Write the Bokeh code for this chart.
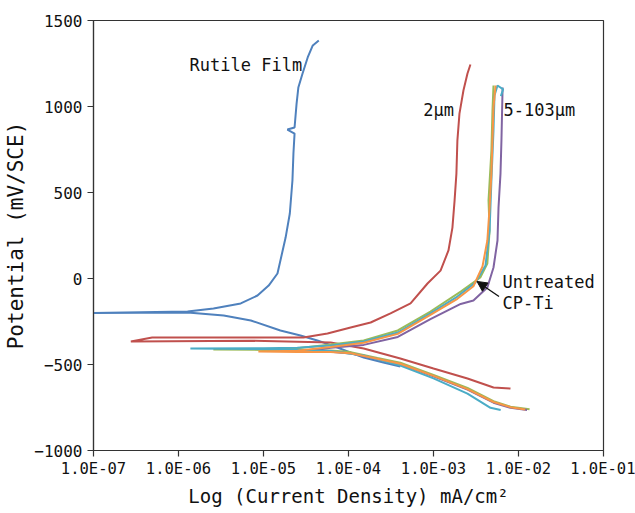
from bokeh.plotting import figure
from bokeh.models import Range1d, FixedTicker, Label, Arrow, NormalHead
from bokeh.embed import file_html
from bokeh.resources import INLINE

# ---------------- data (current density mA/cm^2, potential mV/SCE) ----------------
x_ticks = [1e-7, 1e-6, 1e-5, 1e-4, 1e-3, 1e-2, 1e-1]
x_tick_labels = ["1.0E-07", "1.0E-06", "1.0E-05", "1.0E-04", "1.0E-03", "1.0E-02", "1.0E-01"]
y_ticks = [-1000, -500, 0, 500, 1000, 1500]

# Rutile film (blue)
rutile_i = [4.07e-4, 2.57e-4, 1.51e-4, 1.05e-4, 7.4e-5, 4.3e-5, 2.72e-5, 1.58e-5, 7.1e-6, 3.4e-6, 1.28e-6,
            1.0e-7,
            1.28e-6, 2.58e-6, 5.4e-6, 8.5e-6, 1.15e-5, 1.46e-5, 1.82e-5, 2.04e-5, 2.19e-5, 2.25e-5, 2.32e-5,
            1.91e-5, 2.32e-5, 2.45e-5, 2.57e-5, 2.88e-5, 3.31e-5, 3.8e-5, 4.47e-5]
rutile_e = [-512, -488, -459, -430, -401, -360, -331, -302, -244, -215, -197,
            -200,
            -192, -174, -145, -99, -41, 29, 238, 378, 570, 727, 843,
            866, 878, 1017, 1110, 1192, 1285, 1355, 1384]

# 2 um (red)
um2_i = [8.05e-3, 5.08e-3, 2.51e-3, 1.0e-3, 4.07e-4, 1.51e-4, 6.17e-5, 7.1e-6,
         2.75e-7,
         4.9e-7, 7.1e-6, 2.95e-5, 5.66e-5, 1.06e-4, 1.82e-4, 3.12e-4, 5.37e-4, 8.5e-4, 1.21e-3,
         1.5e-3, 1.67e-3, 1.77e-3, 1.86e-3, 1.91e-3, 2.02e-3, 2.25e-3, 2.51e-3, 2.72e-3]
um2_e = [-640, -634, -581, -523, -465, -407, -372, -362,
         -366,
         -343, -343, -343, -320, -285, -256, -203, -145, -29, 46,
         163, 296, 453, 610, 802, 959, 1093, 1192, 1244]

# 5-103 um / untreated group
green_i = [1.35e-2, 8.05e-3, 5.08e-3, 2.51e-3, 1.0e-3, 4.07e-4, 2.19e-4, 1.06e-4, 6.17e-5, 1.0e-5,
           2.57e-6,
           1.0e-5, 2.5e-5, 6.17e-5, 1.51e-4, 3.8e-4, 9.2e-4, 2.09e-3, 3.55e-3, 4.3e-3, 4.57e-3,
           4.44e-3, 4.8e-3, 4.94e-3, 5.08e-3]
green_e = [-760, -745, -713, -636, -560, -490, -462, -428, -419, -415,
           -413,
           -412, -405, -384, -360, -302, -192, -76, 6, 87, 279,
           453, 744, 977, 1122]

purple_i = [1.26e-2, 8.05e-3, 5.08e-3, 2.51e-3, 1.0e-3, 4.07e-4, 2.19e-4, 1.06e-4, 6.17e-5,
            3.16e-5,
            6.17e-5, 1.51e-4, 3.8e-4, 9.2e-4, 2.09e-3, 2.95e-3, 4.3e-3, 5.08e-3, 5.66e-3,
            5.82e-3, 6.14e-3, 6.3e-3, 6.5e-3]
purple_e = [-765, -752, -722, -646, -568, -498, -468, -436, -426,
            -425,
            -403, -386, -340, -236, -148, -128, -52, 64, 221,
            413, 610, 802, 1110]

cyan_i = [6.17e-3, 4.68e-3, 2.51e-3, 1.0e-3, 4.07e-4, 1.51e-4, 6.17e-5, 1.0e-5,
          1.38e-6,
          1.0e-5, 2.5e-5, 6.17e-5, 1.51e-4, 3.8e-4, 9.2e-4, 1.91e-3, 3.12e-3, 4.09e-3, 4.57e-3,
          4.8e-3, 5.08e-3, 5.22e-3, 5.66e-3, 6.6e-3, 6.2e-3]
cyan_e = [-765, -752, -669, -581, -506, -448, -422, -410,
          -407,
          -405, -402, -390, -366, -314, -203, -105, -23, 76, 279,
          570, 860, 1064, 1122, 1100, 1060]

orange_i = [1.2e-2, 8.05e-3, 5.08e-3, 2.51e-3, 1.0e-3, 4.07e-4, 2.19e-4, 1.06e-4, 6.17e-5, 2.5e-5,
            8.7e-6,
            2.5e-5, 6.17e-5, 1.51e-4, 3.8e-4, 9.2e-4, 1.91e-3, 2.95e-3, 3.77e-3, 4.3e-3, 4.57e-3,
            4.8e-3, 4.94e-3, 5.08e-3, 5.37e-3]
orange_e = [-762, -748, -718, -643, -566, -496, -466, -434, -428, -427,
            -425,
            -420, -398, -374, -322, -212, -118, -45, 70, 221, 413,
            610, 802, 994, 1122]

series = [
    (rutile_i, rutile_e, "#4F81BD"),
    (um2_i, um2_e, "#C0504D"),
    (green_i, green_e, "#9BBB59"),
    (purple_i, purple_e, "#8064A2"),
    (cyan_i, cyan_e, "#4BACC6"),
    (orange_i, orange_e, "#F79646"),
]

# annotations: (text, x, y)
annotations = [
    ("Rutile Film", 1.35e-6, 1244),
    ("2µm", 7.6e-4, 977),
    ("5-103µm", 6.67e-3, 977),
    ("Untreated", 6.49e-3, -23),
    ("CP-Ti", 6.49e-3, -145),
]
arrow_start = (5.9e-3, -105)
arrow_end = (3.25e-3, -17)

MONO = "DejaVu Sans Mono"
AX = "#333333"

p = figure(width=635, height=513, x_axis_type="log",
           x_range=Range1d(1e-7, 1e-1), y_range=Range1d(-1000, 1500),
           output_backend="svg", toolbar_location=None,
           min_border_left=93, min_border_right=32, min_border_top=20, min_border_bottom=63)
p.grid.visible = False
p.outline_line_color = AX
p.outline_line_width = 1.2
p.background_fill_color = "white"
p.border_fill_color = "white"

for xs, ys, c in series:
    p.line(xs, ys, line_color=c, line_width=2.0)

p.xaxis.ticker = FixedTicker(ticks=x_ticks, minor_ticks=[])
p.xaxis.major_label_overrides = {t: s for t, s in zip(x_ticks, x_tick_labels)}
p.yaxis.ticker = FixedTicker(ticks=y_ticks, minor_ticks=[])

for ax in (p.xaxis[0], p.yaxis[0]):
    ax.axis_line_color = AX
    ax.axis_line_width = 1.2
    ax.major_tick_line_color = AX
    ax.major_tick_line_width = 1.2
    ax.major_tick_out = 6
    ax.major_tick_in = 0
    ax.minor_tick_out = 0
    ax.minor_tick_in = 0
    ax.major_label_text_font = MONO
    ax.major_label_text_color = "#111111"
    ax.axis_label_text_font = MONO
    ax.axis_label_text_font_style = "normal"
    ax.axis_label_text_color = "#111111"

p.xaxis.major_label_text_font_size = "15.5px"
p.yaxis.major_label_text_font_size = "16px"
p.xaxis.major_label_standoff = 3
p.yaxis.major_label_standoff = 5
p.xaxis.axis_label = "Log (Current Density) mA/cm²"
p.yaxis.axis_label = "Potential (mV/SCE)"
p.xaxis.axis_label_text_font_size = "19px"
p.yaxis.axis_label_text_font_size = "21px"
p.xaxis.axis_label_standoff = 4
p.yaxis.axis_label_standoff = 3

for txt, x, y in annotations:
    p.add_layout(Label(x=x, y=y, text=txt, text_font=MONO, text_font_size="17px",
                       text_baseline="middle", text_align="left", text_color="#111111"))

p.add_layout(Arrow(x_start=arrow_start[0], y_start=arrow_start[1], x_end=arrow_end[0], y_end=arrow_end[1],
                   line_color="#111111", line_width=1.3,
                   end=NormalHead(size=10, fill_color="#111111", line_color="#111111")))

open("out.html", "w").write(file_html(p, INLINE))
